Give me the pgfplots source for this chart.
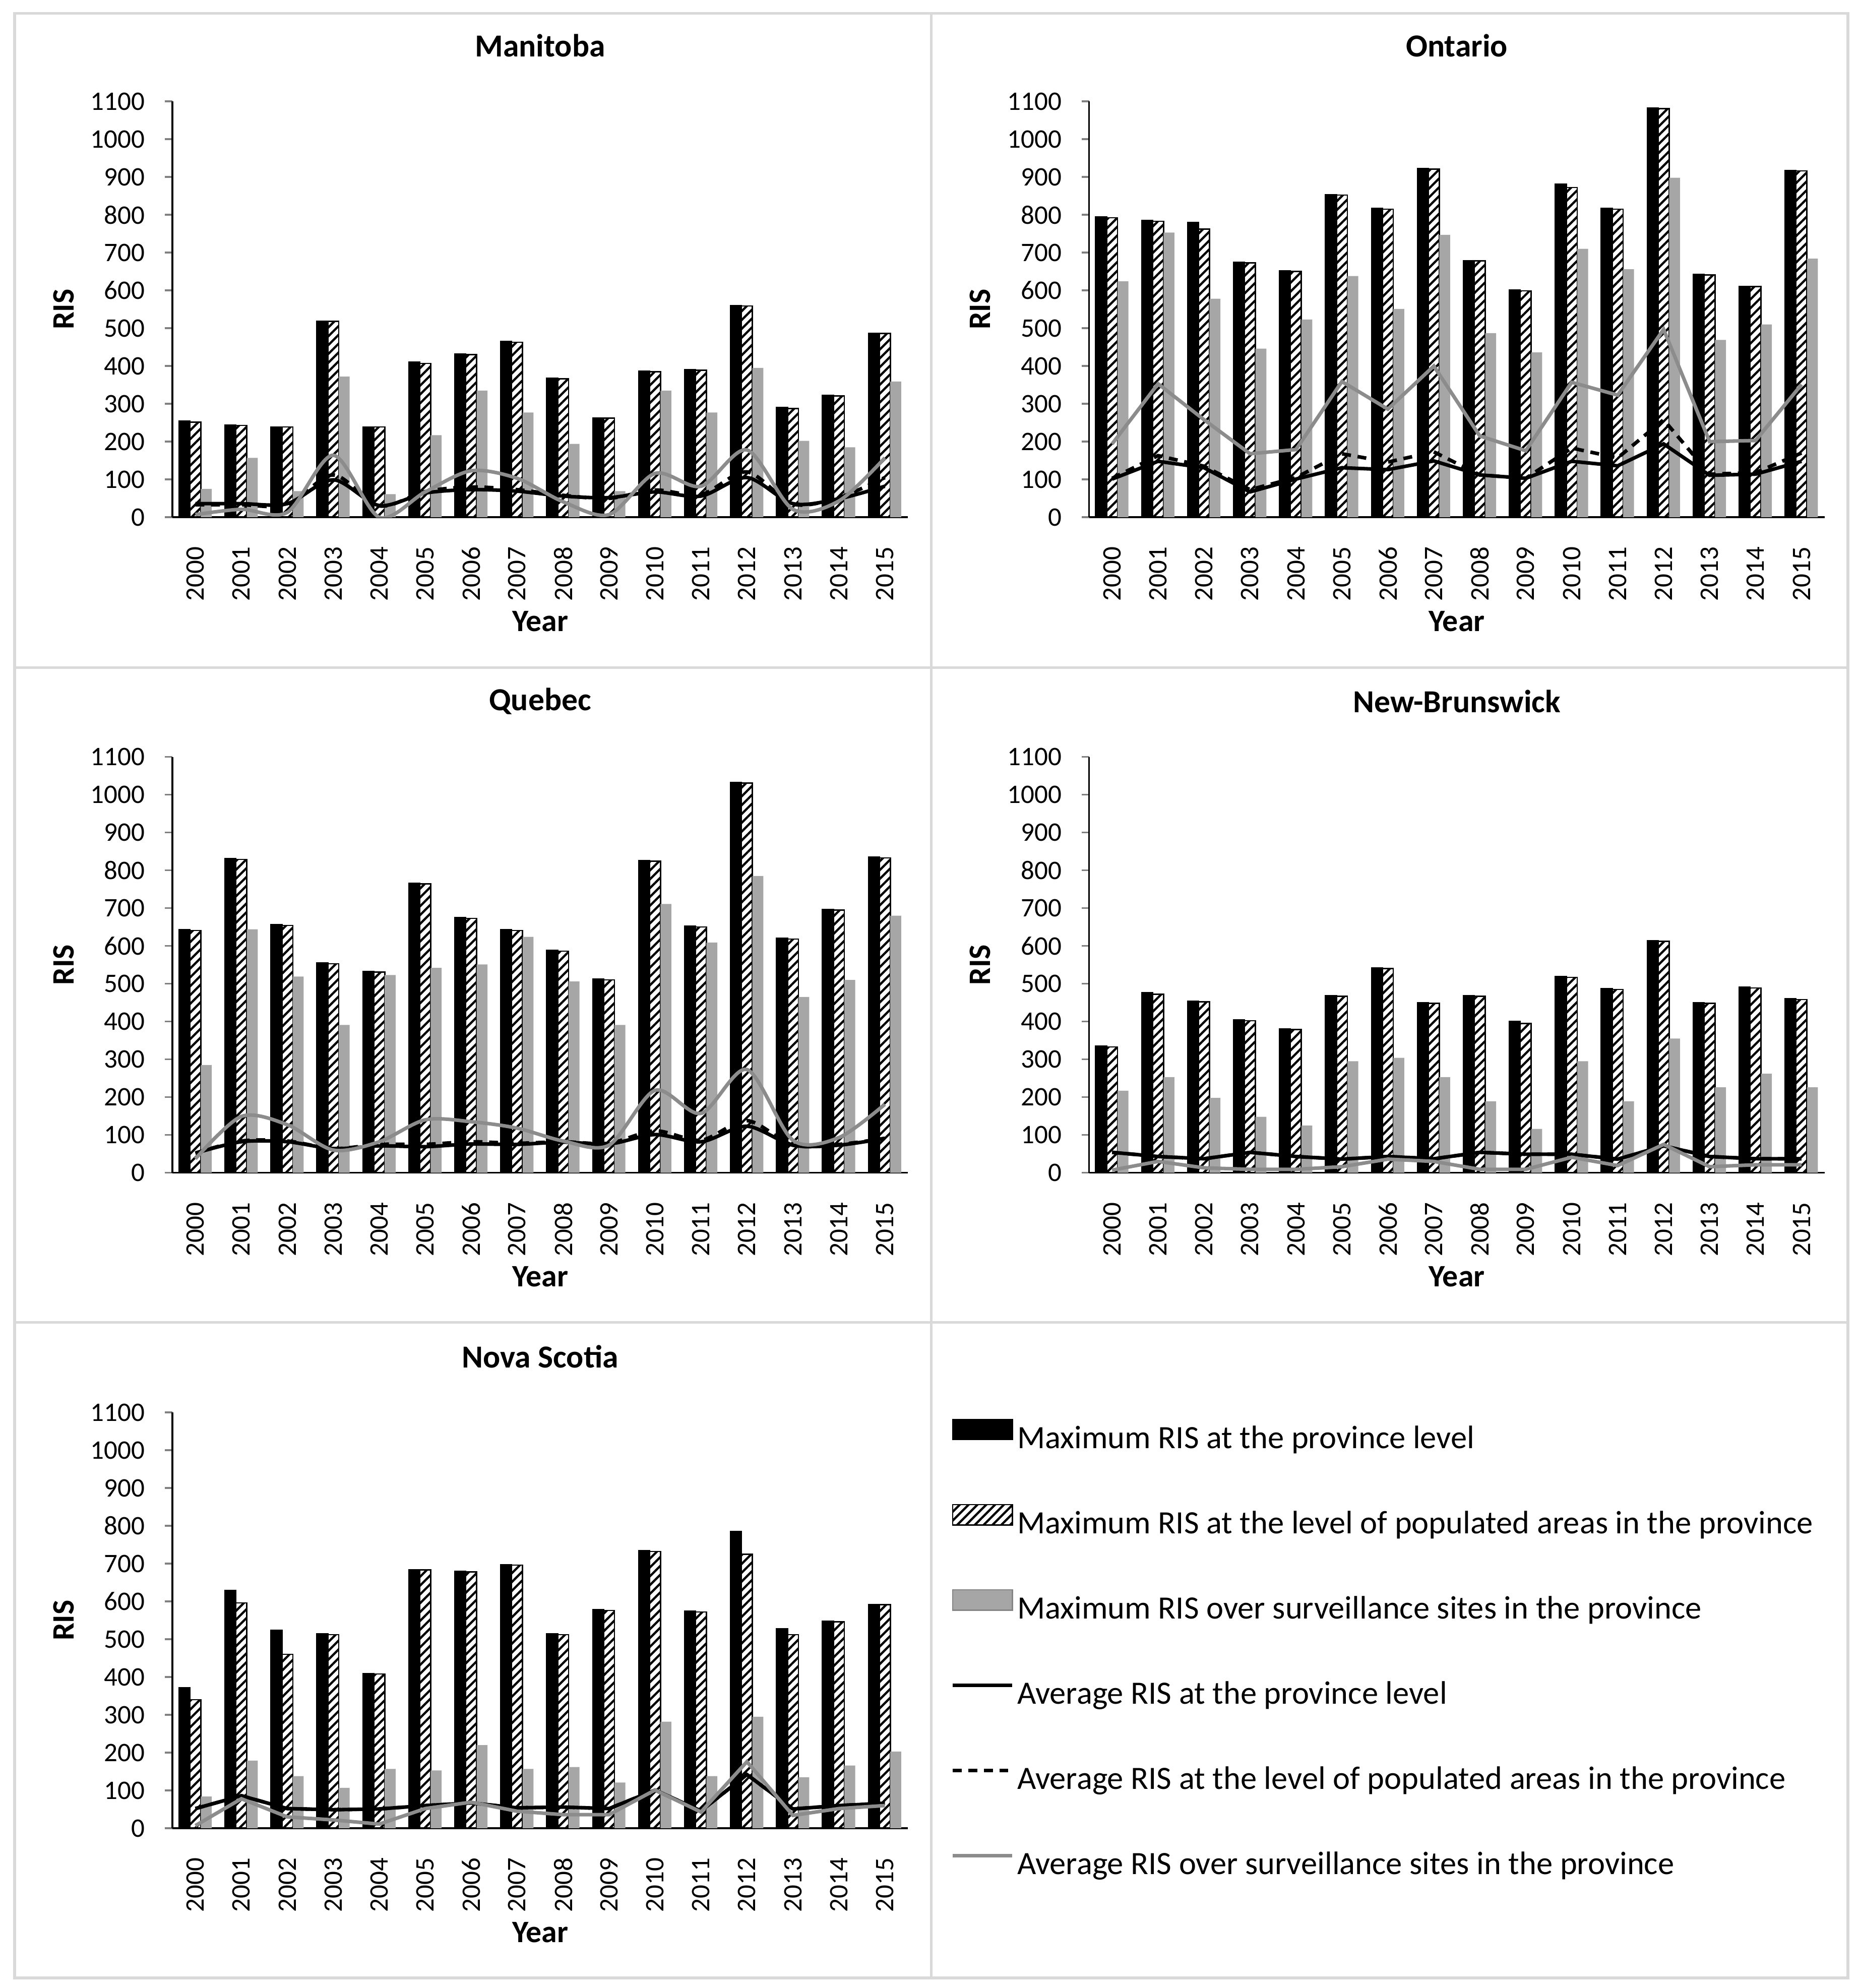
\documentclass[border=0pt]{standalone}
\usepackage{fontspec}
\setmainfont{Carlito}
\usepackage{pgfplots}
\usepackage{pgfplotstable}
\pgfplotsset{compat=1.18}
\usetikzlibrary{patterns.meta}

\definecolor{barGray}{HTML}{A6A6A6}
\definecolor{lineGray}{HTML}{8C8C8C}
\definecolor{frameGray}{HTML}{D9D9D9}

% yr: 0 = 2000 ... 15 = 2015
% mx/mp/ms = max RIS (province / populated areas / sites), av/ap/asu = averages
\pgfplotstableread{
yr mx mp ms av ap asu
0 254 252 75 36 33 7
1 244 243 157 36 33 21
2 239 239 69 36 33 13
3 519 518 372 99 112 164
4 239 239 61 31 30 0
5 410 407 217 64 68 67
6 432 430 335 73 80 123
7 465 463 277 69 73 103
8 368 366 194 56 58 41
9 263 262 69 52 50 7
10 386 385 335 67 72 116
11 391 389 277 56 60 82
12 560 559 395 105 120 178
13 290 288 202 36 35 21
14 322 321 185 49 52 43
15 487 486 359 82 105 157
}\manitoba

\pgfplotstableread{
yr mx mp ms av ap asu
0 794 792 624 101 103 194
1 785 783 753 148 163 353
2 780 762 578 131 135 258
3 675 673 446 67 73 168
4 652 650 523 101 105 179
5 853 852 638 131 168 359
6 817 815 551 126 146 286
7 922 921 747 149 173 400
8 679 678 487 112 112 215
9 601 599 436 103 103 176
10 881 872 710 148 183 357
11 817 815 656 136 157 323
12 1082 1081 898 194 258 497
13 643 641 469 111 114 200
14 611 610 510 114 118 203
15 917 916 684 148 170 351
}\ontario

\pgfplotstableread{
yr mx mp ms av ap asu
0 643 641 285 52 52 37
1 831 829 644 82 84 149
2 656 654 519 82 84 127
3 555 553 391 64 64 60
4 533 531 523 71 75 82
5 766 764 542 69 75 140
6 675 673 551 76 82 135
7 643 641 624 75 78 118
8 588 586 506 81 82 84
9 512 510 391 76 78 73
10 826 824 711 101 111 218
11 652 650 609 82 86 157
12 1033 1031 785 123 138 273
13 620 618 465 73 73 86
14 697 695 510 73 75 93
15 835 833 680 91 91 181
}\quebec

\pgfplotstableread{
yr mx mp ms av ap asu
0 335 333 217 54 54 7
1 477 472 253 43 43 30
2 454 452 198 37 37 13
3 404 402 148 54 54 9
4 381 379 125 43 43 9
5 469 467 295 36 36 16
6 542 540 304 43 43 36
7 450 448 253 37 37 30
8 469 467 189 54 54 9
9 400 395 116 49 49 9
10 519 517 295 49 49 41
11 487 485 189 36 36 19
12 614 612 355 71 71 75
13 450 448 226 43 43 16
14 491 489 262 37 37 21
15 460 458 226 37 37 21
}\newbrunswick

\pgfplotstableread{
yr mx mp ms av ap asu
0 372 340 84 52 52 7
1 629 596 179 86 86 78
2 523 460 138 52 52 30
3 514 512 107 49 49 22
4 409 408 157 51 51 11
5 684 683 153 60 60 52
6 679 678 220 67 67 69
7 697 696 157 54 54 45
8 514 512 162 56 56 36
9 578 576 121 52 52 36
10 734 732 282 101 101 101
11 574 572 138 46 46 43
12 785 725 295 142 142 176
13 528 512 135 51 51 34
14 547 546 166 60 60 52
15 592 591 203 66 66 60
}\novascotia

\pgfplotsset{
  prov/.style={
    scale only axis, width=5.8cm, height=3.28cm, anchor=south west,
    xmin=-0.5, xmax=15.5, ymin=0, ymax=1100,
    axis lines*=left, axis line style={line width=0.4pt},
    xtick={0,...,15},
    xticklabels={2000,2001,2002,2003,2004,2005,2006,2007,2008,2009,2010,2011,2012,2013,2014,2015},
    ytick={0,100,...,1100},
    tick align=outside, major tick length=0.6mm,
    xtick style={draw=none}, ytick style={line width=0.4pt},
    tick label style={font=\fontsize{6}{7}\selectfont},
    /pgf/number format/assume math mode=true,
    /pgf/number format/1000 sep={},
    xticklabel style={rotate=90, anchor=east, inner sep=0pt},
    xticklabel shift=1.66mm,
    yticklabel style={anchor=east, inner sep=0pt},
    yticklabel shift=1.5mm,
    every axis title shift=0pt,
    title style={at={(0.5,1.134)}, anchor=center, yshift=0pt, font=\bfseries\fontsize{7.2}{8}\selectfont},
    xlabel=Year, ylabel=RIS,
    label style={font=\bfseries\fontsize{7}{8}\selectfont},
    xlabel style={at={(axis description cs:0.5,-0.25)}, anchor=center},
    ylabel style={at={(axis description cs:-0.148,0.5)}, anchor=center},
  },
  barmax/.style={ybar, bar width=0.86mm, bar shift=-0.86mm, fill=black, draw=black, line width=0.3pt,
    legend image code/.code={\draw[fill=black, draw=black, line width=0.3pt] (0mm,0mm) rectangle (4.7mm,1.6mm);}},
  barpop/.style={ybar, bar width=0.86mm, bar shift=0mm, draw=black, line width=0.3pt,
    pattern={Lines[angle=45, distance=1.4pt, line width=0.5pt]},
    legend image code/.code={\draw[draw=black, line width=0.3pt, pattern={Lines[angle=45, distance=1.4pt, line width=0.5pt]}] (0mm,0mm) rectangle (4.7mm,1.6mm);}},
  barsite/.style={ybar, bar width=0.86mm, bar shift=0.86mm, fill=barGray, draw=none,
    legend image code/.code={\draw[fill=barGray, draw=barGray!80!black, line width=0.3pt] (0mm,0mm) rectangle (4.7mm,1.6mm);}},
  avgline/.style={black, line width=0.8pt, mark=none,
    legend image code/.code={\draw[black, line width=0.8pt] (0mm,0.8mm) -- (4.7mm,0.8mm);}},
  avgpop/.style={black, line width=0.8pt, mark=none, dash pattern=on 2pt off 1.5pt,
    legend image code/.code={\draw[black, line width=0.8pt, dash pattern=on 2pt off 1.5pt] (0mm,0.8mm) -- (4.7mm,0.8mm);}},
  avgsite/.style={lineGray, line width=0.8pt, mark=none,
    legend image code/.code={\draw[lineGray, line width=0.8pt] (0mm,0.8mm) -- (4.7mm,0.8mm);}},
}

\newcommand{\provplots}[2]{%
  \addplot[barmax] table[x=yr, y=mx]{#1};
  \addplot[barpop] table[x=yr, y=mp]{#1};
  \addplot[barsite] table[x=yr, y=ms]{#1};
  \addplot[avgline, #2] table[x=yr, y=av]{#1};
  \addplot[avgpop, #2] table[x=yr, y=ap]{#1};
  \addplot[avgsite, #2] table[x=yr, y=asu]{#1};
}

\begin{document}
\begin{tikzpicture}
\path[use as bounding box] (0,0) rectangle (14.66,15.68);

% panel frame
\draw[frameGray, line width=0.6pt] (0.115,0.08) rectangle (14.575,15.574);
\draw[frameGray, line width=0.6pt] (7.345,0.08) -- (7.345,15.574);
\draw[frameGray, line width=0.6pt] (0.115,10.415) -- (14.575,10.415);
\draw[frameGray, line width=0.6pt] (0.115,5.25) -- (14.575,5.25);

\begin{axis}[prov, at={(1.36cm,11.60cm)}, title=Manitoba]
  \provplots{\manitoba}{smooth}
\end{axis}

\begin{axis}[prov, at={(8.59cm,11.60cm)}, title=Ontario]
  \provplots{\ontario}{sharp plot}
\end{axis}

\begin{axis}[prov, at={(1.36cm,6.43cm)}, title=Quebec]
  \provplots{\quebec}{smooth}
\end{axis}

\begin{axis}[prov, at={(8.59cm,6.43cm)}, title=New-Brunswick]
  \provplots{\newbrunswick}{sharp plot}
\end{axis}

\begin{axis}[prov, at={(1.36cm,1.26cm)}, title={Nova Scotia},
    legend cell align=left,
    legend style={at={(axis description cs:1.0586,0.9878)}, anchor=north west,
      draw=none, fill=none, inner sep=0pt, outer sep=0pt,
      font=\fontsize{7.3}{8}\selectfont, row sep=3.22mm,
      nodes={inner sep=0.25mm, text height=2.2mm, text depth=0.8mm},
      /tikz/every even column/.append style={column sep=0mm}}]
  \provplots{\novascotia}{sharp plot}
  \legend{Maximum RIS at the province level,
    Maximum RIS at the level of populated areas in the province,
    Maximum RIS over surveillance sites in the province,
    Average RIS at the province level,
    Average RIS at the level of populated areas in the province,
    Average RIS over surveillance sites in the province}
\end{axis}
\end{tikzpicture}
\end{document}
